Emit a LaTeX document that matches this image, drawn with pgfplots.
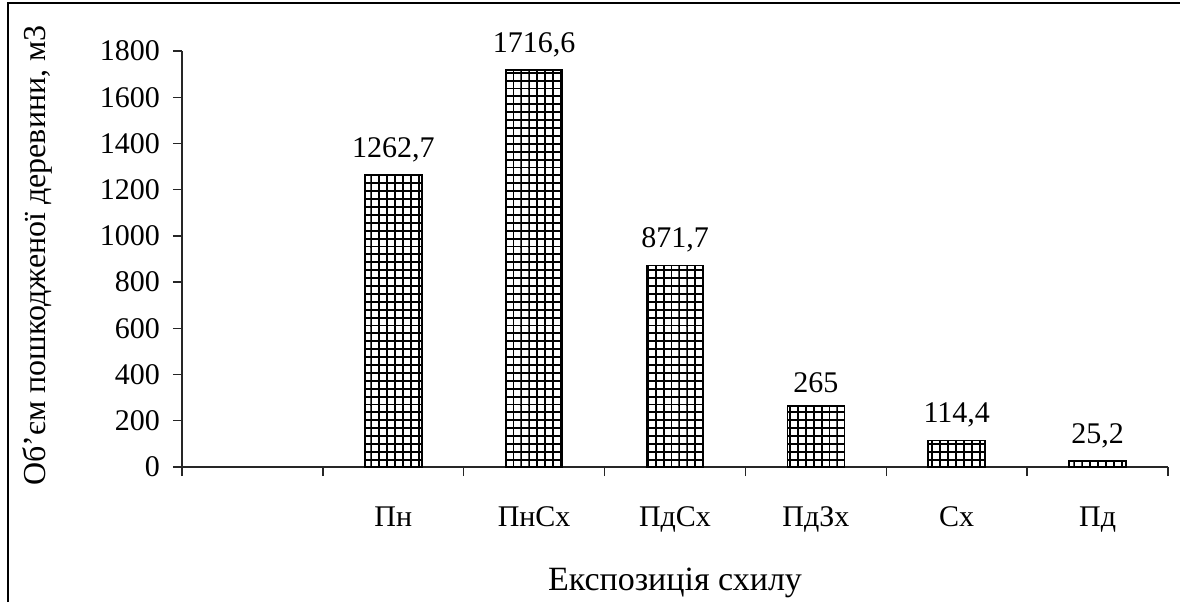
\documentclass[border=0pt]{standalone}
\usepackage{pgfplots}
\pgfplotsset{compat=1.18}
\usepackage{fontspec}
\setmainfont{Liberation Serif}
\usetikzlibrary{patterns}

% square mesh fill used for the bars
\pgfdeclarepatternformonly{boxgrid}{\pgfqpoint{-0.5pt}{-0.5pt}}{\pgfqpoint{4.45pt}{4.45pt}}{\pgfqpoint{3.95pt}{3.95pt}}{%
  \pgfsetlinewidth{0.95pt}%
  \pgfpathmoveto{\pgfqpoint{0pt}{-0.5pt}}\pgfpathlineto{\pgfqpoint{0pt}{4.45pt}}%
  \pgfpathmoveto{\pgfqpoint{-0.5pt}{0pt}}\pgfpathlineto{\pgfqpoint{4.45pt}{0pt}}%
  \pgfusepath{stroke}}

\begin{document}
\begin{tikzpicture}
\useasboundingbox (0,0) rectangle (590pt,301pt);
\draw[line width=1pt] (4pt,0) -- (4pt,299.5pt) -- (590pt,299.5pt);
\begin{axis}[
  at={(91pt,67.5pt)}, anchor=south west,
  scale only axis, width=493pt, height=208pt,
  xmin=-0.5, xmax=6.5, ymin=0, ymax=1800,
  axis x line*=bottom, axis y line*=left,
  axis line style={-, line width=0.7pt, black!85},
  tick align=outside, major tick length=4.5pt,
  tick style={line width=0.7pt, black!85},
  xtick={-0.5,0.5,...,6.5}, xticklabels={},
  extra x ticks={1,2,3,4,5,6},
  extra x tick labels={Пн,ПнСх,ПдСх,ПдЗх,Сх,Пд},
  extra x tick style={tick style={draw=none}},
  xticklabel style={yshift=-12pt},
  ytick={0,200,...,1800},
  yticklabel style={xshift=-3pt},
  tick label style={font=\fontsize{15}{18}\selectfont},
  /pgf/number format/assume math mode=true,
  /pgf/number format/use comma,
  /pgf/number format/1000 sep={},
  ybar, bar width=0.405,
  nodes near coords,
  every node near coord/.append style={font=\fontsize{15}{18}\selectfont, yshift=3pt},
  clip=false,
]
\addplot[draw=black, line width=0.8pt, pattern=boxgrid, pattern color=black]
  coordinates {(1,1262.7) (2,1716.6) (3,871.7) (4,265) (5,114.4) (6,25.2)};
\end{axis}
\node[rotate=90, font=\fontsize{16}{19}\selectfont] at (18.5pt,173.25pt) {Об’єм пошкодженої деревини, м3};
\node[anchor=base, font=\fontsize{17}{20}\selectfont] at (337.5pt,6pt) {Експозиція схилу};
\end{tikzpicture}
\end{document}
